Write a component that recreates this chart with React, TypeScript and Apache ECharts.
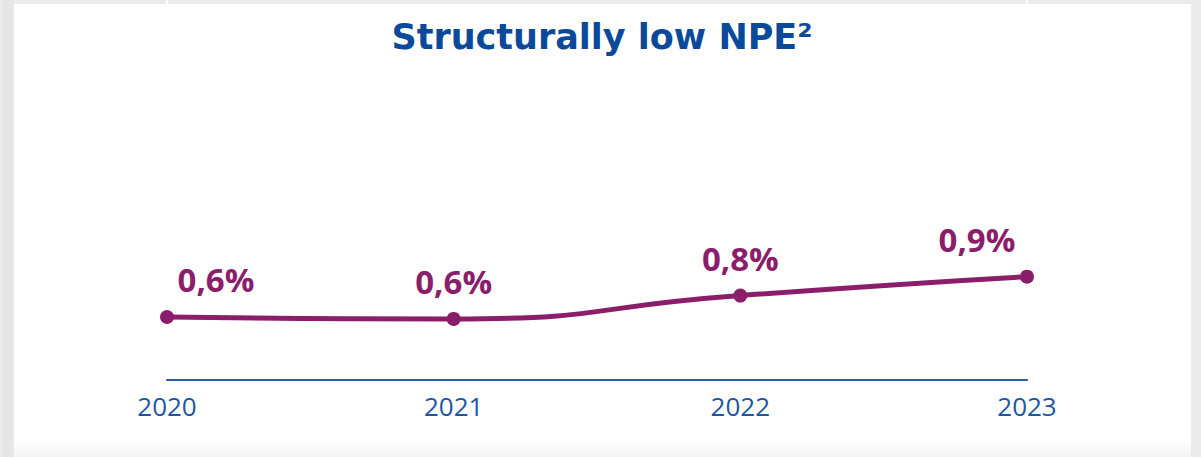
import React, { useEffect, useRef } from "react";
import * as echarts from "echarts";

const years = ["2020", "2021", "2022", "2023"];
const npeValues = [0.6, 0.585, 0.77, 0.92];
const npeLabels = ["0,6%", "0,6%", "0,8%", "0,9%"];
const titleText = "Structurally low NPE²";

const labelOffsets = [
  [49, 0],
  [0, 0],
  [0, 0],
  [-50, 0],
];

const LINE_COLOR = "#8B1E6B";
const BLUE = "#0B4A9B";
const AXIS_BLUE = "#1C56A4";

export default function App() {
  const ref = useRef<HTMLDivElement>(null);

  useEffect(() => {
    if (!ref.current) return;
    const chart = echarts.init(ref.current, null, { renderer: "svg" });
    const option = {
      animation: false,
      backgroundColor: "#ebebeb",
      graphic: [
        {
          type: "rect",
          left: 0,
          top: 0,
          shape: { width: 14, height: 457 },
          style: {
            fill: new echarts.graphic.LinearGradient(0, 0, 1, 0, [
              { offset: 0, color: "#eeeeee" },
              { offset: 0.3, color: "#e4e4e4" },
              { offset: 1, color: "#e8e8e8" },
            ]),
          },
          z: -10,
        },
        {
          type: "rect",
          left: 14,
          top: 4,
          shape: { width: 1177, height: 436 },
          style: { fill: "#ffffff" },
          z: -10,
        },
        {
          type: "rect",
          left: 14,
          top: 440,
          shape: { width: 1177, height: 17 },
          style: {
            fill: new echarts.graphic.LinearGradient(0, 0, 0, 1, [
              { offset: 0, color: "#ffffff" },
              { offset: 1, color: "#f4f4f4" },
            ]),
          },
          z: -10,
        },
        {
          type: "rect",
          left: 166,
          top: 0,
          shape: { width: 2, height: 4 },
          style: { fill: "#ffffff" },
          z: -10,
        },
        {
          type: "rect",
          left: 1026,
          top: 0,
          shape: { width: 2, height: 4 },
          style: { fill: "#ffffff" },
          z: -10,
        },
        {
          type: "text",
          x: 602,
          y: 37,
          style: {
            text: titleText,
            fill: BLUE,
            font: "bold 35px 'DejaVu Sans'",
            align: "center",
            verticalAlign: "middle",
          },
        },
      ],
      grid: { left: 167, right: 174, top: 254, bottom: 77 },
      xAxis: {
        type: "category",
        data: years,
        boundaryGap: false,
        axisLine: { show: true, lineStyle: { color: "#2A5CA3", width: 2 } },
        axisTick: { show: false },
        splitLine: { show: false },
        axisLabel: {
          color: AXIS_BLUE,
          fontFamily: "Open Sans",
          fontSize: 26,
          margin: 13,
        },
      },
      yAxis: {
        type: "value",
        min: 0.1,
        max: 1.1,
        show: false,
      },
      series: [
        {
          type: "line",
          smooth: 0.55,
          symbol: "circle",
          symbolSize: 14,
          lineStyle: { color: LINE_COLOR, width: 5 },
          itemStyle: { color: LINE_COLOR },
          data: npeValues.map((v, i) => ({
            value: v,
            label: { offset: labelOffsets[i] },
          })),
          label: {
            show: true,
            position: "top",
            distance: 14,
            color: LINE_COLOR,
            fontFamily: "Open Sans",
            fontWeight: "bold",
            fontSize: 33,
            formatter: (p: any) => npeLabels[p.dataIndex],
          },
        },
      ],
    };
    chart.setOption(option as any);
    return () => chart.dispose();
  }, []);

  return (
    <div
      ref={ref}
      style={{ position: "fixed", left: 0, top: 0, width: 1201, height: 457 }}
    />
  );
}
